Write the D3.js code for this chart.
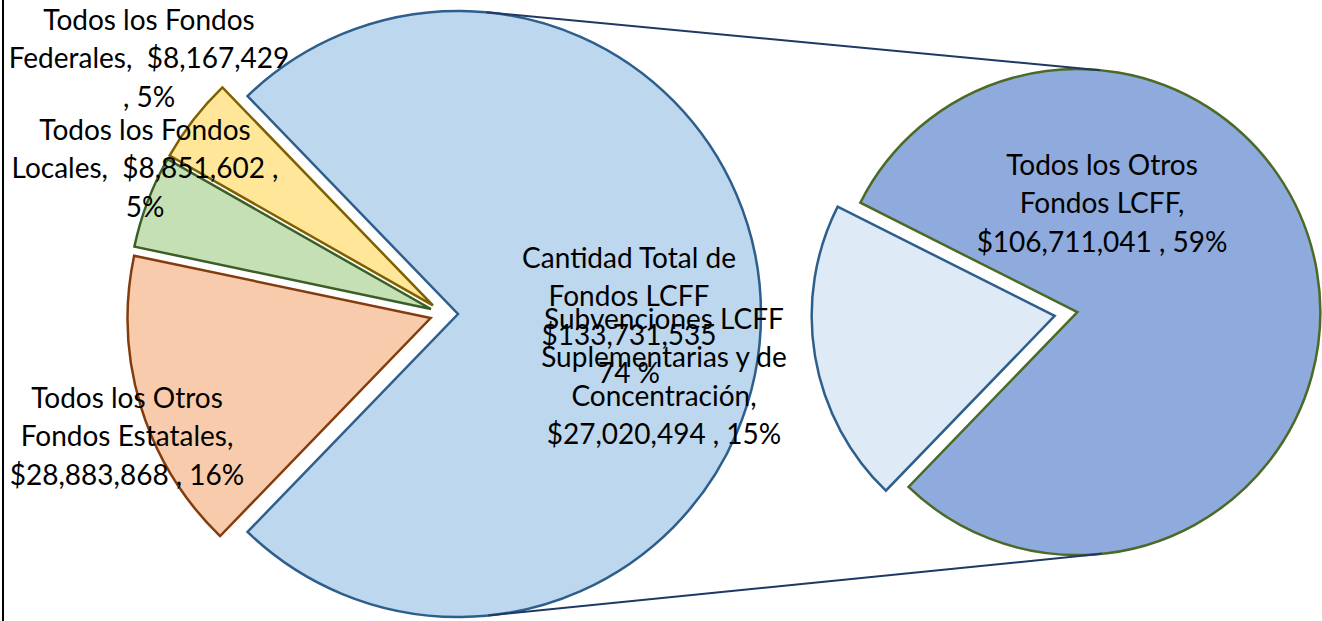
<!DOCTYPE html>
<html>
<head>
<meta charset="utf-8">
<script src="https://cdn.jsdelivr.net/npm/d3@7"></script>
<style>
body { margin: 0; background: #fff; }
svg text { font-family: Lato, 'Noto Sans', sans-serif; fill: #000; white-space: pre; }
</style>
</head>
<body>
<div id="chart"></div>
<script>
// main pie: LCFF total is split out into the second pie
var mainCategories = ['Cantidad Total de Fondos LCFF', 'Todos los Otros Fondos Estatales', 'Todos los Fondos Locales', 'Todos los Fondos Federales'];
var mainValues = [133731535, 28883868, 8851602, 8167429];
var splitCategories = ['Subvenciones LCFF Suplementarias y de Concentración', 'Todos los Otros Fondos LCFF'];
var splitValues = [27020494, 106711041];

// data label text as wrapped in the original ({v} = amount, {p} = percent)
var mainLabelText = [
	'Cantidad Total de\nFondos LCFF\n{v}\n{p} %',
	'Todos los Otros\nFondos Estatales,\n{v} , {p}%',
	'Todos los Fondos\nLocales,  {v} ,\n{p}%',
	'Todos los Fondos\nFederales,  {v}\n, {p}%'
];
var splitLabelText = [
	'Subvenciones LCFF\nSuplementarias y de\nConcentración,\n{v} , {p}%',
	'Todos los Otros\nFondos LCFF,\n{v} , {p}%'
];

var mainFill = ['#bdd7ee', '#f8cbad', '#c5e0b4', '#ffe699'];
var mainStroke = ['#2e5f8c', '#843c0c', '#3b5e26', '#7f6000'];
var splitFill = ['#deebf7', '#8faadc'];
var splitStroke = ['#2e5f8c', '#4b6a26'];

// label anchor (centre x, first line y) - placed by hand like the original
var mainLabelPos = [[629, 258], [127, 398], [145, 130], [149, 20]];
var splitLabelPos = [[664, 319], [1102, 165]];

var width = 1322, height = 621;
var left = {cx: 444, cy: 314, r: 303, explode: 14};
var right = {cx: 1066, cy: 314, r: 243, explode: 11.5};
var lineHeight = 38.4;

var total = d3.sum(mainValues);
var money = d3.format('$,');

var svg = d3.select('#chart').append('svg')
	.attr('width', width)
	.attr('height', height);

svg.append('rect')
	.attr('width', width)
	.attr('height', height)
	.attr('fill', '#fff');

// first pie: big slice centred on the right
var mainShare = mainValues[0] / total;
var mainStart = Math.PI / 2 - mainShare * Math.PI;
var mainPie = d3.pie().sort(null).startAngle(mainStart).endAngle(mainStart + 2 * Math.PI);
var mainArcs = mainPie(mainValues);

// second pie starts where the first pie's big slice ends
var splitStart = mainArcs[0].endAngle;
var splitPie = d3.pie().sort(null).startAngle(splitStart).endAngle(splitStart + 2 * Math.PI);
var splitArcs = splitPie(splitValues);

var shift = function (d, dist) {
	var a = (d.startAngle + d.endAngle) / 2;
	return [Math.sin(a) * dist, -Math.cos(a) * dist];
};

var drawPie = function (arcs, geo, fills, strokes, cls) {
	var arc = d3.arc().innerRadius(0).outerRadius(geo.r);
	svg.append('g')
		.attr('class', cls)
		.attr('transform', 'translate(' + geo.cx + ',' + geo.cy + ')')
		.selectAll('path')
		.data(arcs)
		.enter().append('path')
		.attr('transform', function (d) { var s = shift(d, geo.explode); return 'translate(' + s[0] + ',' + s[1] + ')'; })
		.attr('d', arc)
		.attr('fill', function (d, i) { return fills[i]; })
		.attr('stroke', function (d, i) { return strokes[i]; })
		.attr('stroke-width', 2.5)
		.attr('stroke-linejoin', 'miter');
};

drawPie(mainArcs, left, mainFill, mainStroke, 'pie-main');
drawPie(splitArcs, right, splitFill, splitStroke, 'pie-split');

// connector lines: outer tangents between the LCFF slice and the second pie
var c1 = shift(mainArcs[0], left.explode);
c1 = [left.cx + c1[0], left.cy + c1[1]];
var c2 = shift(splitArcs[1], right.explode);
c2 = [right.cx + c2[0], right.cy + c2[1]];
var dx = c2[0] - c1[0], dy = c2[1] - c1[1];
var dist = Math.sqrt(dx * dx + dy * dy);
var base = Math.atan2(dy, dx);
var off = Math.acos((left.r - right.r) / dist);
[-1, 1].forEach(function (sgn) {
	var a = base + sgn * off;
	svg.append('line')
		.attr('class', 'connector')
		.attr('x1', c1[0] + left.r * Math.cos(a))
		.attr('y1', c1[1] + left.r * Math.sin(a))
		.attr('x2', c2[0] + right.r * Math.cos(a))
		.attr('y2', c2[1] + right.r * Math.sin(a))
		.attr('stroke', '#1f3864')
		.attr('stroke-width', 2);
});

var fillLabel = function (tpl, value) {
	var pct = Math.round(value / total * 100);
	return tpl.replace('{v}', money(value)).replace('{p}', pct).split('\n');
};

var drawLabel = function (lines, pos) {
	var t = svg.append('text')
		.attr('text-anchor', 'middle')
		.attr('font-size', 28);
	t.selectAll('tspan')
		.data(lines)
		.enter().append('tspan')
		.attr('x', pos[0])
		.attr('y', function (d, i) { return pos[1] + i * lineHeight; })
		.attr('dy', '0.35em')
		.text(function (d) { return d; });
};

mainValues.forEach(function (v, i) { drawLabel(fillLabel(mainLabelText[i], v), mainLabelPos[i]); });
splitValues.forEach(function (v, i) { drawLabel(fillLabel(splitLabelText[i], v), splitLabelPos[i]); });

// chart frame, only its left edge is inside the picture
svg.append('line')
	.attr('x1', 3).attr('x2', 3)
	.attr('y1', 0).attr('y2', height)
	.attr('stroke', '#000')
	.attr('stroke-width', 2);
</script>
</body>
</html>
